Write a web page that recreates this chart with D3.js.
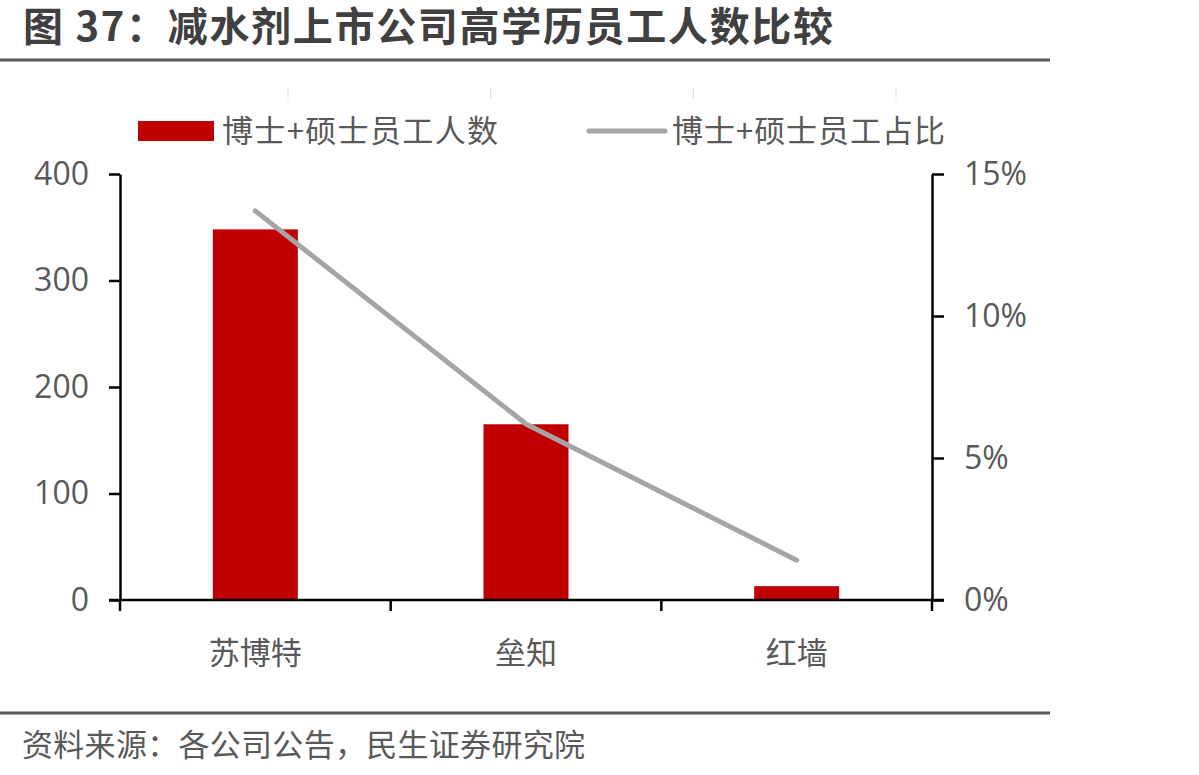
<!DOCTYPE html>
<html>
<head>
<meta charset="utf-8">
<script src="https://cdn.jsdelivr.net/npm/d3@7"></script>
<style>
    body { margin: 0; background: #fff; }
    text { font-family: "Open Sans", "Noto Sans CJK SC", sans-serif; }
</style>
</head>
<body>
<div id="chart"></div>
<script>
// data
let companies = ["苏博特", "垒知", "红墙"];
let staffCount = [348, 165, 13];
let staffShare = [0.137, 0.062, 0.014];
let countTicks = [0, 100, 200, 300, 400];
let shareTicks = [0, 0.05, 0.10, 0.15];
let seriesNames = ["博士+硕士员工人数", "博士+硕士员工占比"];

let title = "图 37：减水剂上市公司高学历员工人数比较";
let source = "资料来源：各公司公告，民生证券研究院";

let W = 1199, H = 775;
let margin = {top: 174, right: 267, bottom: 175, left: 120};
let width = W - margin.left - margin.right;
let height = H - margin.top - margin.bottom;

let svg = d3.select("#chart").append("svg")
    .attr("width", W)
    .attr("height", H);

// title + rules
svg.append("text")
    .attr("x", 23)
    .attr("y", 41)
    .attr("textLength", 810)
    .attr("lengthAdjust", "spacing")
    .style("font-family", "'Noto Sans CJK SC', sans-serif")
    .style("font-weight", "bold")
    .style("font-size", "40px")
    .style("fill", "#404040")
    .text(title);

svg.append("line")
    .attr("x1", 0).attr("x2", 1050)
    .attr("y1", 60).attr("y2", 60)
    .style("stroke", "#595959")
    .style("stroke-width", 3);

svg.append("line")
    .attr("x1", 0).attr("x2", 1050)
    .attr("y1", 713).attr("y2", 713)
    .style("stroke", "#595959")
    .style("stroke-width", 3);

svg.append("text")
    .attr("x", 22)
    .attr("y", 756)
    .attr("textLength", 563)
    .attr("lengthAdjust", "spacing")
    .style("font-family", "'Noto Sans CJK SC', sans-serif")
    .style("font-size", "31px")
    .style("fill", "#595959")
    .text(source);

// faint leftover ticks at the top of the plot
let ghost = d3.scaleLinear().domain([0, 3]).range([288, 896]);
svg.selectAll(".ghost-tick")
    .data(d3.range(4))
    .enter().append("line")
    .attr("class", "ghost-tick")
    .attr("x1", d => ghost(d)).attr("x2", d => ghost(d))
    .attr("y1", 88).attr("y2", 98)
    .style("stroke", "#d9d9d9")
    .style("stroke-width", 1);

let g = svg.append("g")
    .attr("transform", `translate(${margin.left}, ${margin.top})`);

// scales
let x = d3.scaleBand()
    .domain(companies)
    .range([0, width])
    .paddingInner(0)
    .paddingOuter(0);

let yLeft = d3.scaleLinear()
    .domain([0, 400])
    .range([height, 0]);

let yRight = d3.scaleLinear()
    .domain([0, 0.15])
    .range([height, 0]);

let barWidth = x.bandwidth() * 0.314;

// bars
g.selectAll("rect.bar")
    .data(companies)
    .enter().append("rect")
    .attr("class", "bar")
    .attr("x", d => x(d) + x.bandwidth() / 2 - barWidth / 2)
    .attr("y", (d, i) => yLeft(staffCount[i]))
    .attr("width", barWidth)
    .attr("height", (d, i) => height - yLeft(staffCount[i]))
    .style("fill", "#c00000");

// line
let line = d3.line()
    .x((d, i) => x(companies[i]) + x.bandwidth() / 2)
    .y(d => yRight(d));

g.append("path")
    .datum(staffShare)
    .attr("d", line)
    .style("fill", "none")
    .style("stroke", "#a5a5a5")
    .style("stroke-width", 5)
    .style("stroke-linecap", "round")
    .style("stroke-linejoin", "round");

// axes
let styleAxis = sel => {
    sel.selectAll("path, line")
        .style("stroke", "#000")
        .style("stroke-width", 2.5);
    sel.selectAll("text")
        .style("fill", "#595959")
        .style("font-size", "32px");
};

let leftAxis = d3.axisLeft(yLeft)
    .tickValues(countTicks)
    .tickSize(11)
    .tickSizeOuter(0)
    .tickPadding(20);

g.append("g")
    .attr("class", "y-axis")
    .call(leftAxis)
    .call(styleAxis);

let rightAxis = d3.axisRight(yRight)
    .tickValues(shareTicks)
    .tickFormat(d3.format(".0%"))
    .tickSize(12)
    .tickSizeOuter(0)
    .tickPadding(20);

g.append("g")
    .attr("class", "y-axis-right")
    .attr("transform", `translate(${width}, 0)`)
    .call(rightAxis)
    .call(styleAxis);

// category axis: ticks at the band edges, labels at the centers
let edges = companies.map(d => x(d)).concat([width]);
let xAxisG = g.append("g")
    .attr("class", "x-axis")
    .attr("transform", `translate(0, ${height})`);

xAxisG.append("line")
    .attr("x1", -11).attr("x2", width + 12)
    .attr("y1", 0).attr("y2", 0)
    .style("stroke", "#000")
    .style("stroke-width", 2.5);

xAxisG.selectAll(".edge")
    .data(edges)
    .enter().append("line")
    .attr("class", "edge")
    .attr("x1", d => d).attr("x2", d => d)
    .attr("y1", 0).attr("y2", 11)
    .style("stroke", "#000")
    .style("stroke-width", 2.5);

xAxisG.selectAll(".cat-label")
    .data(companies)
    .enter().append("text")
    .attr("class", "cat-label")
    .attr("x", d => x(d) + x.bandwidth() / 2)
    .attr("y", 64)
    .style("text-anchor", "middle")
    .style("font-family", "'Noto Sans CJK SC', sans-serif")
    .style("font-size", "31px")
    .style("fill", "#595959")
    .text(d => d);

// legend
let legend = svg.append("g").attr("class", "legend");

legend.append("rect")
    .attr("x", 138).attr("y", 121)
    .attr("width", 76).attr("height", 20)
    .style("fill", "#c00000");

legend.append("text")
    .attr("x", 222).attr("y", 142)
    .attr("textLength", 276)
    .attr("lengthAdjust", "spacing")
    .style("font-family", "'Noto Sans CJK SC', sans-serif")
    .style("font-size", "31px")
    .style("fill", "#595959")
    .text(seriesNames[0]);

legend.append("line")
    .attr("x1", 589).attr("x2", 665)
    .attr("y1", 131).attr("y2", 131)
    .style("stroke", "#a5a5a5")
    .style("stroke-width", 5)
    .style("stroke-linecap", "round");

legend.append("text")
    .attr("x", 672).attr("y", 142)
    .attr("textLength", 273)
    .attr("lengthAdjust", "spacing")
    .style("font-family", "'Noto Sans CJK SC', sans-serif")
    .style("font-size", "31px")
    .style("fill", "#595959")
    .text(seriesNames[1]);
</script>
</body>
</html>
